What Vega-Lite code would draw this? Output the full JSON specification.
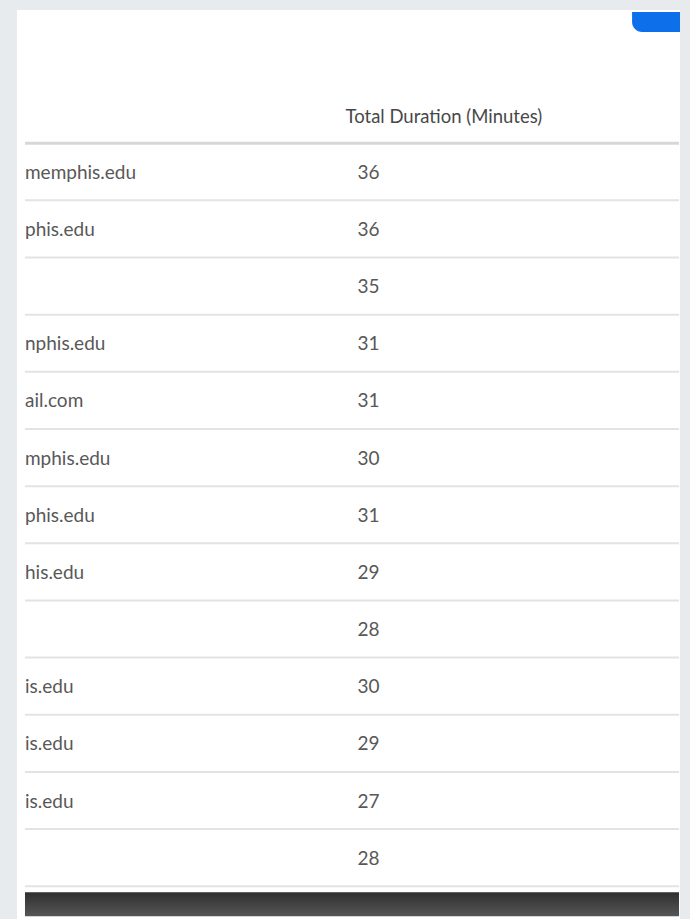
{
  "$schema": "https://vega.github.io/schema/vega-lite/v6.json",
  "width": 690,
  "height": 919,
  "autosize": {"type": "fit", "contains": "padding"},
  "padding": {"left": 17, "top": 10, "right": 9, "bottom": 0},
  "background": "#e8ebed",
  "config": {"view": {"fill": "#ffffff", "stroke": null}},
  "data": {
    "values": [
      {"row": "1", "participant": "memphis.edu", "duration": 36},
      {"row": "2", "participant": "phis.edu", "duration": 36},
      {"row": "3", "participant": "", "duration": 35},
      {"row": "4", "participant": "nphis.edu", "duration": 31},
      {"row": "5", "participant": "ail.com", "duration": 31},
      {"row": "6", "participant": "mphis.edu", "duration": 30},
      {"row": "7", "participant": "phis.edu", "duration": 31},
      {"row": "8", "participant": "his.edu", "duration": 29},
      {"row": "9", "participant": "", "duration": 28},
      {"row": "10", "participant": "is.edu", "duration": 30},
      {"row": "11", "participant": "is.edu", "duration": 29},
      {"row": "12", "participant": "is.edu", "duration": 27},
      {"row": "13", "participant": "", "duration": 28}
    ]
  },
  "encoding": {
    "y": {
      "field": "row",
      "type": "ordinal",
      "axis": null,
      "scale": {
        "domain": ["header", "1", "2", "3", "4", "5", "6", "7", "8", "9", "10", "11", "12", "13"],
        "paddingInner": 0,
        "paddingOuter": 0.9507,
        "align": 0.699
      }
    }
  },
  "layer": [
    {
      "data": {"values": [{"part": "header divider"}]},
      "mark": {"type": "rule", "stroke": "#d7d7d7", "strokeWidth": 3},
      "encoding": {
        "y": {"datum": "header", "type": "ordinal", "bandPosition": 1},
        "x": {"datum": 8, "type": "quantitative", "axis": null, "scale": {"domain": [0, 664], "nice": false, "zero": false}},
        "x2": {"datum": 663}
      }
    },
    {
      "mark": {"type": "rule", "stroke": "#e3e3e3", "strokeWidth": 2},
      "encoding": {
        "y": {"field": "row", "type": "ordinal", "bandPosition": 1},
        "x": {"datum": 8, "type": "quantitative", "axis": null, "scale": {"domain": [0, 664], "nice": false, "zero": false}},
        "x2": {"datum": 663}
      }
    },
    {
      "mark": {"type": "text", "align": "left", "baseline": "middle", "dy": 1, "font": "Lato", "fontSize": 19, "fill": "#585858"},
      "encoding": {
        "x": {"datum": 8, "type": "quantitative", "axis": null, "scale": {"domain": [0, 664], "nice": false, "zero": false}},
        "text": {"field": "participant", "type": "nominal"}
      }
    },
    {
      "mark": {"type": "text", "align": "left", "baseline": "middle", "dy": 1, "font": "Lato", "fontSize": 19, "fill": "#585858"},
      "encoding": {
        "x": {"datum": 341, "type": "quantitative", "axis": null, "scale": {"domain": [0, 664], "nice": false, "zero": false}},
        "text": {"field": "duration", "type": "quantitative"}
      }
    },
    {
      "data": {"values": [{"label": "Total Duration (Minutes)"}]},
      "mark": {"type": "text", "align": "left", "baseline": "middle", "dy": 2, "font": "Lato", "fontSize": 18.5, "fill": "#484848"},
      "encoding": {
        "y": {"datum": "header", "type": "ordinal"},
        "x": {"datum": 329, "type": "quantitative", "axis": null, "scale": {"domain": [0, 664], "nice": false, "zero": false}},
        "text": {"field": "label", "type": "nominal"}
      }
    },
    {
      "data": {"values": [{"part": "footer bar"}]},
      "mark": {
        "type": "bar",
        "height": 24,
        "yOffset": 46.5,
        "color": {
          "gradient": "linear", "x1": 0, "y1": 0, "x2": 0, "y2": 1,
          "stops": [{"offset": 0, "color": "#2f2f2f"}, {"offset": 1, "color": "#565656"}]
        }
      },
      "encoding": {
        "y": {"datum": "13", "type": "ordinal"},
        "x": {"datum": 8, "type": "quantitative", "axis": null, "scale": {"domain": [0, 664], "nice": false, "zero": false}},
        "x2": {"datum": 663}
      }
    },
    {
      "data": {"values": [{"part": "blue button"}]},
      "mark": {"type": "bar", "height": 20, "yOffset": -92.6, "color": "#0e6fea", "cornerRadiusBottomLeft": 11},
      "encoding": {
        "y": {"datum": "header", "type": "ordinal"},
        "x": {"datum": 616, "type": "quantitative", "axis": null, "scale": {"domain": [0, 664], "nice": false, "zero": false}},
        "x2": {"datum": 664}
      }
    }
  ]
}
